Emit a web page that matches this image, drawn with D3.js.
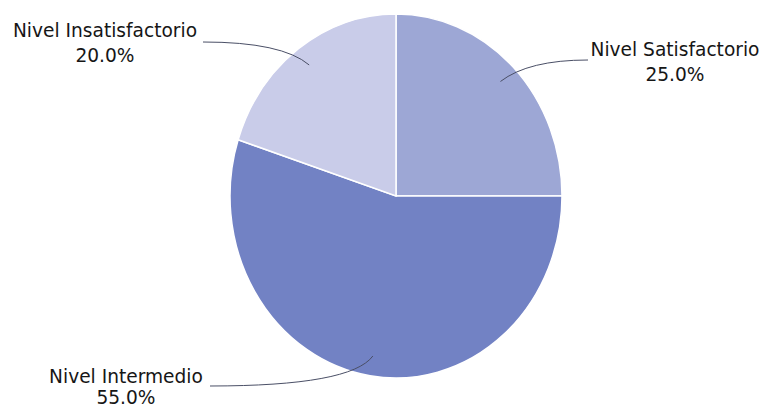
<!DOCTYPE html>
<html>
<head>
<meta charset="utf-8">
<script src="https://cdn.jsdelivr.net/npm/d3@7"></script>
<style>
  html, body { margin: 0; padding: 0; background: #fff; }
  svg { display: block; }
  text { font-family: "DejaVu Sans", Verdana, sans-serif; fill: #161616; }
</style>
</head>
<body>
<svg id="chart" width="763" height="409"></svg>
<script>
// ---- data ----
const categories = ["Nivel Satisfactorio", "Nivel Intermedio", "Nivel Insatisfactorio"];
const values = [25.0, 55.0, 20.0];
const colors = ["#9da7d5", "#7282c4", "#c9cce9"];

// ---- layout ----
const W = 763, H = 409;
const cx = 396, cy = 196, rx = 166, ry = 182;
const labelLayout = [
  { x: 675, y: 56, gap: 25, ctrlDx: 28 },   // Satisfactorio
  { x: 126, y: 383, gap: 21, ctrlDx: -22 }, // Intermedio
  { x: 105, y: 37, gap: 25, ctrlDx: -27 }   // Insatisfactorio
];
const lineStarts = [[588, 60], [210, 386], [203, 42]];

const svg = d3.select("#chart");
const data = categories.map((c, i) => ({ name: c, value: values[i], color: colors[i] }));

const pie = d3.pie().value(d => d.value).sort(null);
const arcs = pie(data);
const arc = d3.arc().innerRadius(0).outerRadius(rx);

const g = svg.append("g").attr("transform", `translate(${cx},${cy}) scale(1,${ry / rx})`);
g.selectAll("path")
  .data(arcs)
  .enter().append("path")
  .attr("d", arc)
  .attr("fill", d => d.data.color)
  .attr("stroke", "#ffffff")
  .attr("stroke-width", 1.5)
  .attr("vector-effect", "non-scaling-stroke");

// leader lines and labels
const fmt = d3.format(".1f");
arcs.forEach((a, i) => {
  const mid = (a.startAngle + a.endAngle) / 2;
  const k = 0.89;
  const ex = cx + Math.sin(mid) * rx * k;
  const ey = cy - Math.cos(mid) * ry * k;
  const [sx, sy] = lineStarts[i];
  const p = d3.path();
  p.moveTo(sx, sy);
  p.quadraticCurveTo(ex + labelLayout[i].ctrlDx, sy, ex, ey);
  svg.append("path")
    .attr("d", p.toString())
    .attr("fill", "none")
    .attr("stroke", "#4a4f66")
    .attr("stroke-width", 1);

  const L = labelLayout[i];
  const t = svg.append("text")
    .attr("text-anchor", "middle")
    .style("font-size", "18.6px");
  t.append("tspan").attr("x", L.x).attr("y", L.y).text(a.data.name);
  t.append("tspan").attr("x", L.x).attr("y", L.y + L.gap).text(fmt(a.data.value) + "%");
});
</script>
</body>
</html>
